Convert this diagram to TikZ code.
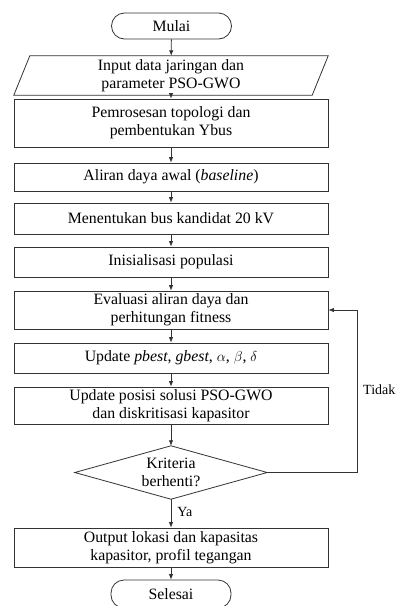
\documentclass[tikz,border=0pt]{standalone}
\usepackage{fontspec}
\setmainfont{Liberation Serif}
\usetikzlibrary{arrows.meta}
\begin{document}
\begin{tikzpicture}[x=1pt,y=-1pt,
  font=\fontsize{15.8}{18}\selectfont,
  line/.style={draw=black!80, line width=0.8pt},
  arr/.style={line, -{Latex[length=5.5pt,width=4.5pt]}},
  proc/.style={line, minimum width=314pt, inner sep=0pt, align=center},
  term/.style={line, rounded corners=13pt, minimum width=120pt, minimum height=26pt, inner sep=0pt},
  ghost/.style={minimum width=314pt, inner sep=0pt, align=center},
  lbl/.style={inner sep=0pt, font=\fontsize{14}{16}\selectfont}]
\clip (0,0) rectangle (401,606);
\fill[white] (0,0) rectangle (401,606);

\node[term] (start) at (171.5,26) {Mulai};
\node[ghost, minimum height=39pt] (inp) at (171,75.5) {Input data jaringan dan\\parameter PSO-GWO};
\draw[line] ([xshift=16pt]inp.north west) -- (inp.north east) -- ([xshift=-16pt]inp.south east) -- (inp.south west) -- cycle;
\node[proc, minimum height=48pt] (topo) at (171,123) {Pemrosesan topologi dan\\pembentukan Ybus};
\node[proc, minimum height=28pt] (base) at (171,177) {Aliran daya awal (\textit{baseline})};
\node[proc, minimum height=31pt] (cand) at (171,218.5) {Menentukan bus kandidat 20 kV};
\node[proc, minimum height=30pt] (init) at (171,262) {Inisialisasi populasi};
\node[proc, minimum height=38pt] (eval) at (171,310) {Evaluasi aliran daya dan\\perhitungan fitness};
\node[proc, minimum height=30pt] (upd) at (171,358) {Update \textit{pbest}, \textit{gbest}, $\alpha$, $\beta$, $\delta$};
\node[proc, minimum height=37pt] (pos) at (171,405.5) {Update posisi solusi PSO-GWO\\dan diskritisasi kapasitor};
\node[ghost, minimum width=192pt, minimum height=53pt] (dia) at (171,472.5) {Kriteria\\berhenti?};
\draw[line] (dia.north) -- (dia.east) -- (dia.south) -- (dia.west) -- cycle;
\node[proc, minimum height=39pt] (out) at (171,547.5) {Output lokasi dan kapasitas\\kapasitor, profil tegangan};
\node[term, minimum height=28pt] (end) at (171,594) {Selesai};

\draw[arr] (start) -- (inp);
\draw[arr] (inp) -- (topo);
\draw[arr] (topo) -- (base);
\draw[arr] (base) -- (cand);
\draw[arr] (cand) -- (init);
\draw[arr] (init) -- (eval);
\draw[arr] (eval) -- (upd);
\draw[arr] (upd) -- (pos);
\draw[arr] (pos) -- (dia.north);
\draw[arr] (dia.south) -- node[lbl, right, xshift=6pt, yshift=1pt] (ya) {Ya} (out);
\draw[arr] (out) -- (end);
\coordinate (fb) at (357,0);
\draw[arr] (dia.east) -- (dia.east -| fb) |- (eval.east);
\node[lbl, anchor=west] (tidak) at (363,390) {Tidak};
\end{tikzpicture}
\end{document}
